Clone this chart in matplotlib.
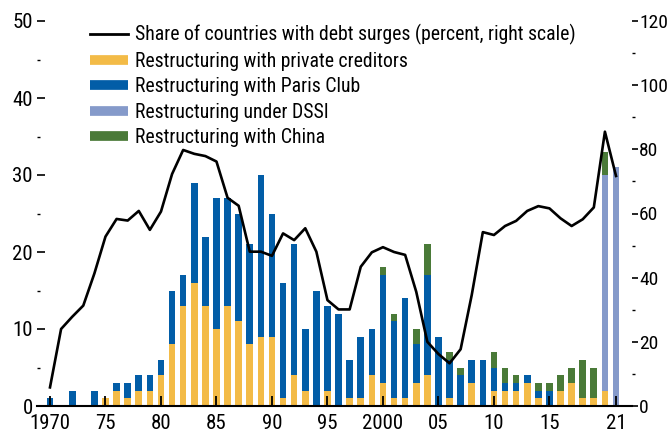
import os
import matplotlib
matplotlib.use("Agg")
import matplotlib.pyplot as plt
from matplotlib import font_manager as fm
from matplotlib.lines import Line2D
from matplotlib.ticker import MultipleLocator
import numpy as np

# ---- pick a condensed sans font if one is installed ----
prefs = ['liberationsansnarrow-regular', 'robotocondensed-regular', 'notosans-condensed.',
         'notosans-condensed-regular', 'dejavusanscondensed.', 'opensans_condensed-regular',
         'opensans-condensed-regular']
chosen = None
for key in prefs:
    for f in fm.fontManager.ttflist:
        if os.path.basename(f.fname).lower().startswith(key):
            chosen = f
            break
    if chosen is not None:
        break
if chosen is None:
    for f in fm.fontManager.ttflist:
        n = os.path.basename(f.fname).lower()
        if ('narrow' in n or 'condensed' in n) and 'bold' not in n and 'italic' not in n \
                and 'semi' not in n and 'extra' not in n and 'light' not in n and 'oblique' not in n:
            chosen = f
            break
if chosen is not None:
    plt.rcParams['font.family'] = [chosen.name, 'DejaVu Sans']
    plt.rcParams['font.stretch'] = chosen.stretch
    TICK_FS, RTICK_FS, LEG_FS = 15, 14, 14.2
else:
    plt.rcParams['font.family'] = ['Liberation Sans', 'DejaVu Sans']
    TICK_FS, RTICK_FS, LEG_FS = 13.5, 12.5, 12

years = list(range(1970, 2022))
private = [0, 0, 0, 0, 0, 1, 2, 1, 2, 2, 4, 8, 13, 16, 13, 10, 13, 11, 8, 9,
           9, 1, 4, 2, 0, 2, 0, 1, 1, 4, 3, 1, 1, 3, 4, 0, 1, 0, 3, 0,
           2, 2, 2, 3, 1, 0, 2, 3, 1, 1, 2, 0]
paris_club = [1, 0, 2, 0, 2, 0, 1, 2, 2, 2, 2, 7, 4, 13, 9, 17, 14, 14, 13, 21,
              16, 15, 17, 8, 15, 11, 12, 5, 8, 6, 14, 10, 13, 5, 13, 9, 5, 4, 3, 6,
              3, 1, 1, 1, 1, 2, 0, 0, 0, 0, 0, 0]
dssi = [0] * 50 + [28, 31]
china = [0, 0, 0, 0, 0, 0, 0, 0, 0, 0, 0, 0, 0, 0, 0, 0, 0, 0, 0, 0,
         0, 0, 0, 0, 0, 0, 0, 0, 0, 0, 1, 1, 0, 2, 4, 0, 1, 1, 0, 0,
         2, 2, 1, 0, 1, 1, 2, 2, 5, 4, 3, 0]
share = [5.8, 24, 27.8, 31.3, 41.3, 52.8, 58.3, 57.8, 60.8, 54.9,
         60.6, 72.3, 79.8, 78.6, 77.9, 76.2, 64.9, 62.4, 48.1, 48.1,
         46.8, 53.8, 51.7, 55.4, 48.1, 33.0, 30.1, 30.1, 43.4, 47.9,
         49.5, 48.0, 47.1, 35.6, 20.0, 16.2, 13.3, 17.7, 34.6, 54.2,
         53.3, 56.1, 57.7, 60.8, 62.3, 61.6, 58.5, 56.1, 58.2, 61.9,
         85.5, 71.7]
xtick_years = [1970, 1975, 1980, 1985, 1990, 1995, 2000, 2005, 2010, 2015, 2021]
xtick_labels = ["1970", "75", "80", "85", "90", "95", "2000", "05", "10", "15", "21"]

c_priv = '#F3BB47'
c_paris = '#025DA7'
c_dssi = '#859ACA'
c_china = '#4A7A38'

fig = plt.figure(figsize=(6.67, 4.33), dpi=100)
ax = fig.add_axes([37/667, 27/433, 595/667, 385/433])
x = np.array(years)
w = 0.6
p = np.array(private, float)
pc = np.array(paris_club, float)
ds = np.array(dssi, float)
ch = np.array(china, float)
ax.bar(x, p, width=w, color=c_priv, linewidth=0)
ax.bar(x, pc, width=w, bottom=p, color=c_paris, linewidth=0)
ax.bar(x, ds, width=w, bottom=p + pc, color=c_dssi, linewidth=0)
ax.bar(x, ch, width=w, bottom=p + pc + ds, color=c_china, linewidth=0)

ax.set_xlim(1968.83, 2022.44)
ax.set_ylim(0, 50)
for s in ['top', 'left', 'right']:
    ax.spines[s].set_visible(False)
ax.spines['bottom'].set_linewidth(1.5)
ax.set_xticks(xtick_years)
ax.set_xticklabels(xtick_labels, fontsize=TICK_FS)
ax.tick_params(axis='x', direction='in', length=7, width=1.3, pad=6)
ax.yaxis.set_major_locator(MultipleLocator(10))
ax.yaxis.set_minor_locator(MultipleLocator(5))
ax.tick_params(axis='y', which='major', direction='in', length=6, width=1.2,
               labelsize=TICK_FS, pad=3)
ax.tick_params(axis='y', which='minor', direction='in', length=2, width=1.0)

ax2 = ax.twinx()
ax2.plot(x, share, color='black', lw=1.9, zorder=5)
ax2.set_ylim(0, 120)
for s in ['top', 'left', 'right', 'bottom']:
    ax2.spines[s].set_visible(False)
ax2.yaxis.set_major_locator(MultipleLocator(20))
ax2.yaxis.set_minor_locator(MultipleLocator(10))
ax2.tick_params(axis='y', which='major', direction='out', length=4, width=1.2,
                labelsize=RTICK_FS, pad=1)
ax2.tick_params(axis='y', which='minor', direction='out', length=2, width=1.0)

handles = [Line2D([], [], color='black', lw=2.0),
           Line2D([], [], color=c_priv, lw=7, solid_capstyle='butt'),
           Line2D([], [], color=c_paris, lw=7, solid_capstyle='butt'),
           Line2D([], [], color=c_dssi, lw=7, solid_capstyle='butt'),
           Line2D([], [], color=c_china, lw=7, solid_capstyle='butt')]
labels = ["Share of countries with debt surges (percent, right scale)",
          "Restructuring with private creditors",
          "Restructuring with Paris Club",
          "Restructuring under DSSI",
          "Restructuring with China"]
hl = 38.0 / (LEG_FS * 100 / 72)
tp = 7.0 / (LEG_FS * 100 / 72)
leg = ax2.legend(handles, labels, loc='upper left', bbox_to_anchor=(0.089, 0.992),
                 frameon=False, fontsize=LEG_FS, handlelength=hl, handletextpad=tp,
                 labelspacing=0.33, borderaxespad=0, borderpad=0)

fig.savefig("out.png", dpi=100)
